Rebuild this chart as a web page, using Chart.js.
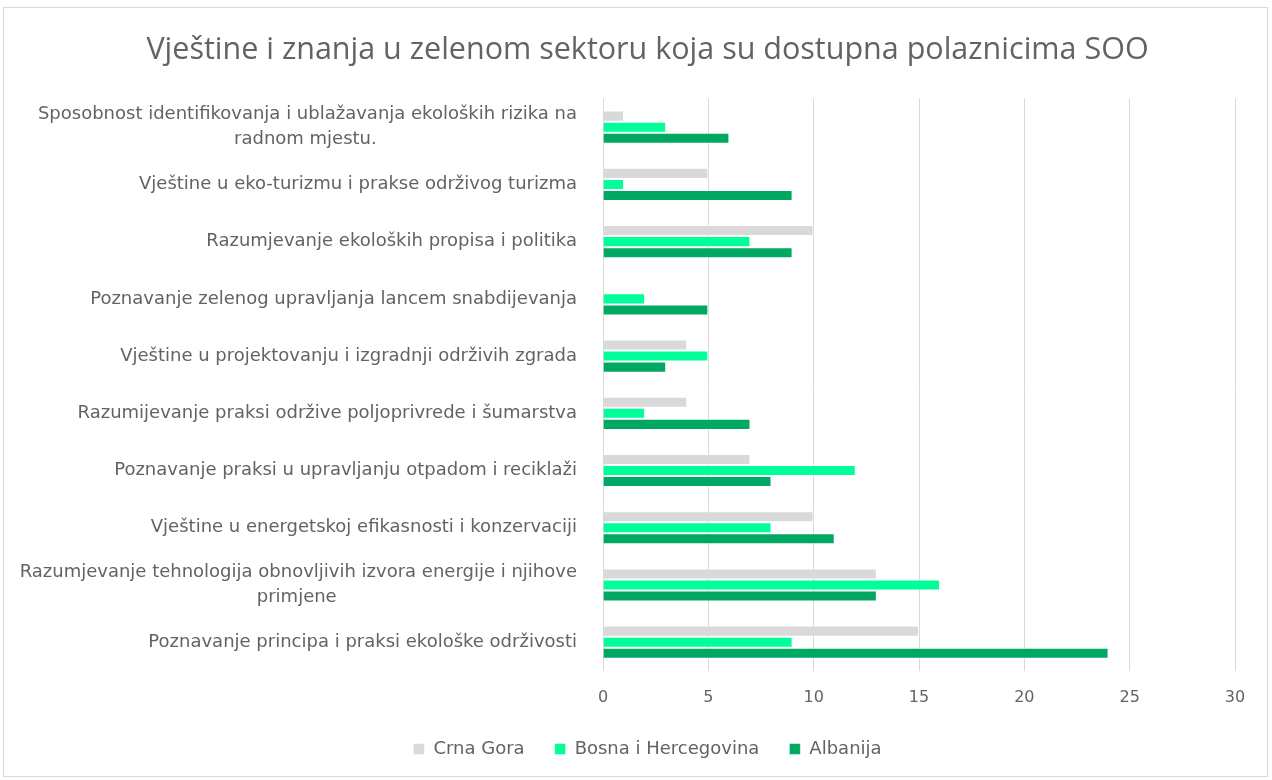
<!DOCTYPE html>
<html>
<head>
<meta charset="utf-8">
<script src="https://cdn.jsdelivr.net/npm/chart.js@4"></script>
<style>
  body { margin: 0; background: #fff; }
  #frame { position: absolute; left: 3px; top: 7px; width: 1263px; height: 768px; border: 1px solid #d9d9d9; }
  #wrap { position: absolute; left: 0; top: 0; width: 1272px; height: 780px; }
</style>
</head>
<body>
<div id="frame"></div>
<div id="wrap"><canvas id="skillsChart"></canvas></div>
<script>
const categories = [
  ['Sposobnost identifikovanja i ublažavanja ekoloških rizika na', 'radnom mjestu.'],
  'Vještine u eko-turizmu i prakse održivog turizma',
  'Razumjevanje ekoloških propisa i politika',
  'Poznavanje zelenog upravljanja lancem snabdijevanja',
  'Vještine u projektovanju i izgradnji održivih zgrada',
  'Razumijevanje praksi održive poljoprivrede i šumarstva',
  'Poznavanje praksi u upravljanju otpadom i reciklaži',
  'Vještine u energetskoj efikasnosti i konzervaciji',
  ['Razumjevanje tehnologija obnovljivih izvora energije i njihove', 'primjene'],
  'Poznavanje principa i praksi ekološke održivosti'
];
const crnaGora = [1, 5, 10, 0, 4, 4, 7, 10, 13, 15];
const bosna = [3, 1, 7, 2, 5, 2, 12, 8, 16, 9];
const albanija = [6, 9, 9, 5, 3, 7, 8, 11, 13, 24];
const xTicks = [0, 5, 10, 15, 20, 25, 30];

const textColor = '#636363';
const labelFont = '18px "DejaVu Sans"';

// centre the shorter lines of a wrapped label under the longest one
const measure = document.createElement('canvas').getContext('2d');
measure.font = labelFont;
function centreLines(label) {
  if (!Array.isArray(label)) return label;
  const widths = label.map(l => measure.measureText(l).width);
  const maxW = Math.max(...widths);
  const sp = measure.measureText(' ').width;
  return label.map((l, i) => l + ' '.repeat(Math.round((maxW - widths[i]) / 2 / sp)));
}

// long category labels spill into the left padding; widen the label clip box
const labelRoom = {
  id: 'labelRoom',
  afterLayout(chart) { chart.scales.y.left = 10; }
};

const ctx = document.getElementById('skillsChart');

new Chart(ctx, {
  type: 'bar',
  data: {
    labels: categories,
    datasets: [
      {
        label: 'Crna Gora',
        data: crnaGora,
        backgroundColor: '#d9d9d9',
        borderColor: 'rgba(255,255,255,0.5)',
        borderWidth: 1
      },
      {
        label: 'Bosna i Hercegovina',
        data: bosna,
        backgroundColor: '#00ff99',
        borderColor: 'rgba(255,255,255,0.5)',
        borderWidth: 1
      },
      {
        label: 'Albanija',
        data: albanija,
        backgroundColor: '#00a862',
        borderColor: 'rgba(255,255,255,0.5)',
        borderWidth: 1
      }
    ]
  },
  plugins: [labelRoom],
  options: {
    indexAxis: 'y',
    responsive: true,
    maintainAspectRatio: false,
    animation: false,
    datasets: {
      bar: { categoryPercentage: 0.58, barPercentage: 1.0 }
    },
    layout: {
      padding: { top: 32, left: 60, right: 37, bottom: 12 }
    },
    scales: {
      x: {
        min: 0,
        max: 30,
        afterBuildTicks: (scale) => { scale.ticks = xTicks.map(v => ({ value: v })); },
        grid: { color: '#d9d9d9', lineWidth: 1, drawTicks: false },
        border: { display: false },
        ticks: {
          color: textColor,
          font: { family: 'DejaVu Sans', size: 16 },
          padding: 17
        },
        afterFit: (scale) => { scale.height -= 14; }
      },
      y: {
        grid: { display: false },
        border: { display: true, color: '#d9d9d9', width: 1 },
        ticks: {
          color: textColor,
          font: { family: 'DejaVu Sans', size: 18, lineHeight: 1.4 },
          padding: 18,
          crossAlign: 'near',
          callback: function (value) { return centreLines(categories[value]); }
        },
        afterFit: (scale) => { scale.width = 543; }
      }
    },
    plugins: {
      title: {
        display: true,
        text: 'Vještine i znanja u zelenom sektoru koja su dostupna polaznicima SOO',
        color: textColor,
        font: { family: 'Open Sans', size: 30.5, weight: 'normal' },
        padding: { top: 0, bottom: 30 }
      },
      legend: {
        position: 'bottom',
        labels: {
          color: textColor,
          font: { family: 'DejaVu Sans', size: 18 },
          boxWidth: 11,
          boxHeight: 11,
          padding: 30
        }
      },
      tooltip: { enabled: false }
    }
  }
});
</script>
</body>
</html>
